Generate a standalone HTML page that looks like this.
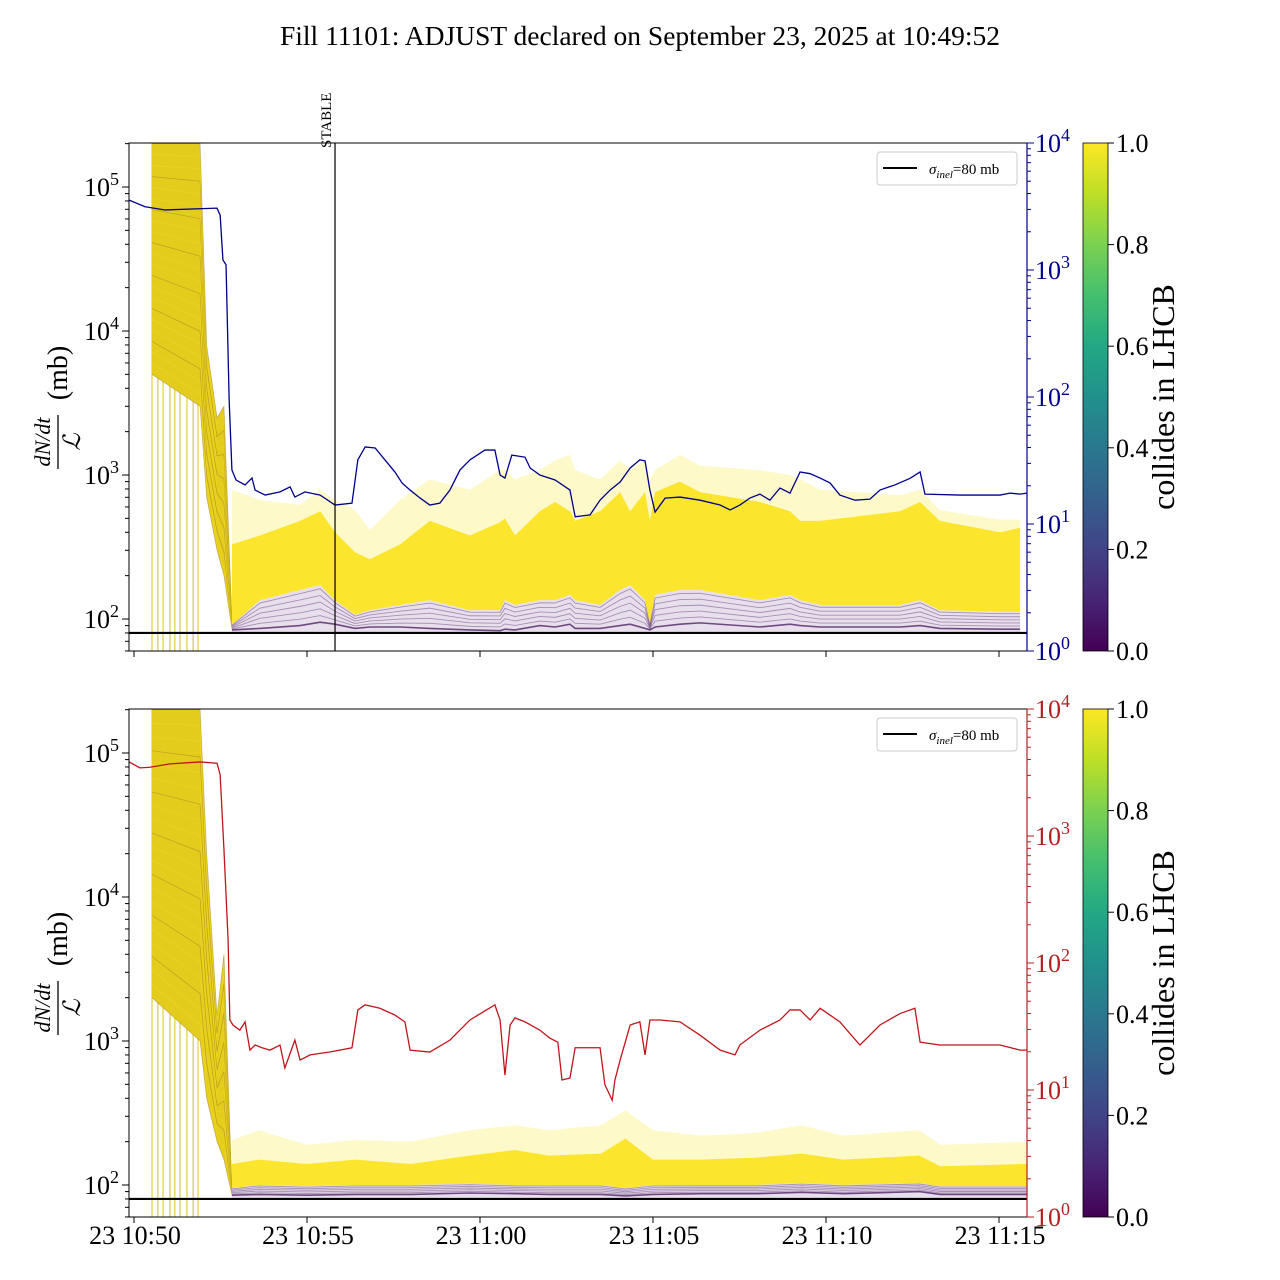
<!DOCTYPE html>
<html><head><meta charset="utf-8">
<style>
html,body{margin:0;padding:0;background:#fff;}
svg{display:block;font-family:"Liberation Serif","DejaVu Serif",serif;}
</style></head>
<body>
<svg id="chart" width="1280" height="1280" viewBox="0 0 1280 1280" xmlns="http://www.w3.org/2000/svg">
<defs>
<linearGradient id="viridis" x1="0" y1="1" x2="0" y2="0">
<stop offset="0" stop-color="#440154"/><stop offset="0.1" stop-color="#482475"/>
<stop offset="0.2" stop-color="#414487"/><stop offset="0.3" stop-color="#355f8d"/>
<stop offset="0.4" stop-color="#2a788e"/><stop offset="0.5" stop-color="#21918c"/>
<stop offset="0.6" stop-color="#22a884"/><stop offset="0.7" stop-color="#44bf70"/>
<stop offset="0.8" stop-color="#7ad151"/><stop offset="0.9" stop-color="#bddf26"/>
<stop offset="1" stop-color="#fde725"/>
</linearGradient>
</defs>
<text x="640" y="45" font-size="27.5" text-anchor="middle">Fill 11101: ADJUST declared on September 23, 2025 at 10:49:52</text>
<g id="layer"></g>
</svg>
<script>
// ---- data (time in minutes after 23 10:50) ----
const xTickLabels = ["23 10:50","23 10:55","23 11:00","23 11:05","23 11:10","23 11:15"];
const xTickMinutes = [0,5,10,15,20,25];
const leftTickExps = [2,3,4,5];
const rightTickExps = [0,1,2,3,4];
const cbTicks = ["0.0","0.2","0.4","0.6","0.8","1.0"];
const sigmaInel = 80;
const stableTime = 5.81;
const injTimes = [0.52,0.69,0.84,1.04,1.18,1.33,1.53,1.71,1.85];

const spikeTimes = [0.52,1.91,2.10,2.40,2.60,2.83];
const spikeTopA = [200000,200000,8000,2500,3000,95];
const spikeBotA = [5000,3000,700,300,200,85];
const spikeTopB = [200000,200000,20000,1500,4000,90];
const spikeBotB = [2000,1000,400,200,150,85];

const bandTimesA = [2.83,3.64,4.80,5.38,5.81,6.39,6.82,7.69,8.55,9.71,10.58,10.72,11.01,11.73,12.17,12.60,12.75,13.47,14.05,14.34,14.77,14.91,15.06,15.78,16.36,18.09,18.96,19.25,19.83,22.14,22.72,23.29,25.03,25.61];
const faintTopA = [790,670,620,790,670,570,415,670,930,790,1080,1080,930,1080,1260,1380,1080,930,1260,1080,1260,930,1080,1380,1160,1080,1000,930,790,725,790,570,490,490];
const coreTopA = [330,380,480,560,400,290,260,330,480,380,470,500,380,560,650,560,480,560,760,560,760,480,760,900,760,650,560,480,480,560,650,480,400,430];
const coreBotA = [91,135,159,172,135,107,115,125,135,115,115,135,125,135,135,147,135,125,159,172,135,91,147,159,159,135,147,135,125,125,135,115,112,112];
const purpleA = [84,86,90,95,92,86,88,88,86,84,83,85,84,90,88,92,86,86,90,92,86,84,88,92,94,88,92,90,88,88,90,86,85,85];

const bandTimesB = [2.83,3.6,5,6.4,8,9.7,11,12,13.5,14.2,15,16.4,18,19.3,20.5,22.7,23.3,25.8];
const faintTopB = [205,240,190,205,200,240,260,240,260,330,240,220,230,260,220,240,190,200];
const coreTopB = [140,150,140,150,140,160,175,160,165,210,150,150,155,165,150,160,135,140];
const coreBotB = [95,100,98,100,100,102,100,100,100,95,100,100,100,103,100,103,98,98];
const purpleB = [85,86,85,86,86,88,87,86,86,84,86,87,87,89,87,90,86,86];

const blueTimes = [-0.14,0.32,0.90,2.40,2.49,2.57,2.66,2.75,2.83,2.95,3.21,3.41,3.50,3.79,4.22,4.51,4.65,4.94,5.38,5.81,6.30,6.47,6.68,6.97,7.25,7.54,7.75,7.98,8.27,8.55,8.84,9.13,9.42,9.71,10.14,10.43,10.58,10.72,10.92,11.30,11.45,11.73,12.17,12.60,12.75,13.18,13.47,13.76,14.05,14.34,14.62,14.77,14.91,15.06,15.35,15.78,16.36,16.94,17.23,17.51,17.80,18.09,18.38,18.67,18.96,19.25,19.54,19.83,20.12,20.40,20.84,21.27,21.56,21.99,22.43,22.72,22.86,23.87,25.03,25.32,25.61,25.81];
const blueVals = [3550,3150,2970,3070,2700,1200,1100,95,26.6,22.2,20.3,23,18.5,16.9,17.9,19.6,16.3,17.9,16.9,14.1,14.6,32,40.4,39.7,32,25.7,21,18.5,16,14.1,14.6,18.5,26.6,32,38.2,38.2,24.3,23,34.9,33.6,27.6,24.3,22.2,18.5,11.4,11.8,15.4,18.5,21.4,27.6,32,31.4,18.5,12.4,16,16.3,15.4,14.1,12.9,14.1,16,17.2,15.4,19.2,17.5,25.7,24.9,23,21,16.9,15.4,15.7,18.5,20.3,22.9,25.7,17.2,16.9,16.9,17.5,17.2,17.5];

const redTimes = [-0.14,0.17,0.46,1.04,1.91,2.40,2.49,2.60,2.72,2.77,2.86,3.06,3.21,3.35,3.50,3.70,3.93,4.22,4.36,4.65,4.80,5.09,5.66,6.30,6.47,6.68,7.11,7.54,7.83,7.98,8.55,9.13,9.71,10.43,10.58,10.72,10.87,11.01,11.30,11.73,12.02,12.25,12.37,12.60,12.75,13.18,13.47,13.61,13.82,13.90,14.05,14.34,14.62,14.77,14.91,15.20,15.78,16.36,16.94,17.37,17.51,18.09,18.67,18.96,19.25,19.54,19.83,20.40,20.98,21.56,22.14,22.57,22.72,23.29,25.03,25.61,25.81];
const redVals = [3830,3440,3480,3700,3830,3740,3030,780,151,35.6,32.5,29.6,34.4,20.6,22.6,21.5,20.6,22.6,14.9,24.7,17.2,18.9,19.9,21.5,42.7,46.8,44,38.9,34.4,20.6,19.9,24.7,35.6,46.8,35.6,13.1,32.5,37,34.4,29.6,25.6,23.8,12,12.4,21.5,21.5,21.5,11,8.3,12,17.2,32.5,34.4,18.9,35.6,35.6,34.4,27,20.6,18.9,22.6,29.6,35.6,42.7,42.7,35.6,44,34.4,22.6,32.5,40,44,23.8,22.6,22.6,20.6,20.6];

// ---- layout ----
const NS = "http://www.w3.org/2000/svg";
const layer = document.getElementById('layer');
const AX_L = 129, AX_R = 1027;
const xS = t => 134 + t * 34.6;
function mk(tag, attrs, parent){
  const e = document.createElementNS(NS, tag);
  for (const k in attrs) e.setAttribute(k, attrs[k]);
  (parent || layer).appendChild(e);
  return e;
}
const panels = [
  {top:143, bot:651, y100:619, rc:"#00008b", line:"#00008b", lt:blueTimes, lv:blueVals,
   sT:spikeTopA, sB:spikeBotA, bt:bandTimesA, ft:faintTopA, ct:coreTopA, cb:coreBotA, pu:purpleA, labels:false, name:"top"},
  {top:709, bot:1217, y100:1185, rc:"#b22222", line:"#c0151b", lt:redTimes, lv:redVals,
   sT:spikeTopB, sB:spikeBotB, bt:bandTimesB, ft:faintTopB, ct:coreTopB, cb:coreBotB, pu:purpleB, labels:true, name:"bottom"}
];
panels.forEach(P => {
  const yL = v => P.y100 - (Math.log10(v) - 2) * 144;
  const yR = v => P.bot - Math.log10(v) * 127;
  const g = mk('g', {'clip-path':'url(#clip-' + P.name + ')'});
  
  
  const cp = mk('clipPath', {id:'clip-' + P.name}, document.querySelector('defs'));
  mk('rect', {x:AX_L, y:P.top, width:AX_R-AX_L, height:P.bot-P.top}, cp);

  injTimes.forEach((t,i) => {
    const l = mk('line', {x1:xS(t), x2:xS(t), y1:P.top, y2:P.bot, stroke: i%2 ? '#c8b830' : '#e0c400', 'stroke-width':1.2, opacity:0.8}, g);
    
    
  });
  let pts = spikeTimes.map((t,i)=>xS(t)+','+yL(P.sT[i]));
  pts = pts.concat(spikeTimes.map((t,i)=>xS(t)+','+yL(P.sB[i])).reverse());
  const sp = mk('polygon', {points:pts.join(' '), fill:'#e4cc1c'}, g);
  
  
  for (let k=0;k<22;k++){
    const f = k/21;
    const p = spikeTimes.map((t,i)=>xS(t)+','+yL(Math.pow(10, Math.log10(P.sB[i]) + f*(Math.log10(P.sT[i])-Math.log10(P.sB[i])))));
    mk('polyline', {points:p.join(' '), fill:'none', stroke:(k%3==0)?'#8a6a2a':'#f7e020', 'stroke-width':0.7, opacity:0.45}, g);
  }
  const faint = P.bt.map((t,i)=>xS(t)+','+yL(P.ft[i])).concat(P.bt.map((t,i)=>xS(t)+','+yL(P.cb[i])).reverse());
  const fb = mk('polygon', {points:faint.join(' '), fill:'#fde725', opacity:0.25}, g);
  
  
  const core = P.bt.map((t,i)=>xS(t)+','+yL(P.ct[i])).concat(P.bt.map((t,i)=>xS(t)+','+yL(P.cb[i])).reverse());
  const cbp = mk('polygon', {points:core.join(' '), fill:'#fbe320', opacity:0.92}, g);
  
  
  const pur = P.bt.map((t,i)=>xS(t)+','+yL(P.cb[i])).concat(P.bt.map((t,i)=>xS(t)+','+yL(sigmaInel)).reverse());
  const pp = mk('polygon', {points:pur.join(' '), fill:'#e6dcea', opacity:0.9}, g);
  
  
  for (let k=0;k<6;k++){
    const f = k/5;
    const p = P.bt.map((t,i)=>{
      const a = Math.log10(P.pu[i]), b = Math.log10(P.cb[i]);
      return xS(t)+','+yL(Math.pow(10, a + f*(b-a)*0.9));
    });
    const pl = mk('polyline', {points:p.join(' '), fill:'none', stroke:'#46175e', 'stroke-width': k==0?1.6:0.9, opacity: k==0?0.75:0.4}, g);
    
    
  }
  const sl = mk('line', {x1:AX_L, x2:AX_R, y1:yL(sigmaInel), y2:yL(sigmaInel), stroke:'#000', 'stroke-width':2.2}, g);
  
  
  const lp = P.lt.map((t,i)=>xS(t)+','+yR(P.lv[i]));
  const ln = mk('polyline', {points:lp.join(' '), fill:'none', stroke:P.line, 'stroke-width':1.3}, g);
  
  

  const fr = mk('rect', {x:AX_L, y:P.top, width:AX_R-AX_L, height:P.bot-P.top, fill:'none', stroke:'#000', 'stroke-width':1});
  
  
  mk('line', {x1:AX_R, x2:AX_R, y1:P.top, y2:P.bot, stroke:P.rc, 'stroke-width':1.2});

  leftTickExps.forEach(e => {
    const y = yL(Math.pow(10,e));
    mk('line', {x1:AX_L-7, x2:AX_L, y1:y, y2:y, stroke:'#000'});
    const tx = mk('text', {x:AX_L-10, y:y+9, 'font-size':26, 'text-anchor':'end'});
    
    
    tx.innerHTML = '10<tspan dy="-11" font-size="18">' + e + '</tspan>';
    for (let m=2;m<10;m++){
      const ym = yL(m*Math.pow(10,e));
      if (ym>P.top && ym<P.bot) mk('line', {x1:AX_L-4, x2:AX_L, y1:ym, y2:ym, stroke:'#000'});
    }
  });
  [60,70,80,90].forEach(v=>{const ym=yL(v); if(ym<P.bot) mk('line',{x1:AX_L-4,x2:AX_L,y1:ym,y2:ym,stroke:'#000'});});
  rightTickExps.forEach(e => {
    const y = yR(Math.pow(10,e));
    mk('line', {x1:AX_R, x2:AX_R+7, y1:y, y2:y, stroke:P.rc});
    const tx = mk('text', {x:AX_R+8, y:y+9, 'font-size':26, fill:P.rc});
    
    
    tx.innerHTML = '10<tspan dy="-11" font-size="18">' + e + '</tspan>';
    if (e<4) for (let m=2;m<10;m++){
      const ym = yR(m*Math.pow(10,e));
      mk('line', {x1:AX_R, x2:AX_R+4, y1:ym, y2:ym, stroke:P.rc});
    }
  });
  xTickMinutes.forEach((t,i) => {
    mk('line', {x1:xS(t), x2:xS(t), y1:P.bot, y2:P.bot+6, stroke:'#000'});
    if (P.labels){
      const tx = mk('text', {x:xS(t)+1, y:P.bot+27, 'font-size':26, 'text-anchor':'middle'});
      
      
      tx.textContent = xTickLabels[i];
    }
  });
  const cy = (P.top+P.bot)/2 + 10;
  const yl = mk('g', {transform:'translate(58,'+cy+') rotate(-90)'});
  
  
  const t1 = mk('text', {x:-35, y:-8, 'font-size':22, 'font-style':'italic', 'text-anchor':'middle'}, yl);
  t1.textContent = 'dN/dt';
  mk('line', {x1:-62, x2:-8, y1:0, y2:0, stroke:'#000', 'stroke-width':1.3}, yl);
  const t2 = mk('text', {x:-35, y:22, 'font-size':24, 'font-style':'italic', 'text-anchor':'middle', 'font-family':'"DejaVu Serif",serif'}, yl);
  t2.textContent = 'ℒ';
  const t3 = mk('text', {x:34, y:9, 'font-size':28, 'text-anchor':'middle'}, yl);
  t3.textContent = '(mb)';
  const lg = mk('g', {});
  
  
  mk('rect', {x:877, y:P.top+9, width:140, height:33, rx:3, fill:'#fff', stroke:'#ccc'}, lg);
  mk('line', {x1:883, x2:917, y1:P.top+25, y2:P.top+25, stroke:'#000', 'stroke-width':2}, lg);
  const lt = mk('text', {x:929, y:P.top+31, 'font-size':15}, lg);
  lt.innerHTML = '<tspan font-style="italic">σ<tspan dy="4" font-size="11">inel</tspan></tspan><tspan dy="-4">=80 mb</tspan>';
  const cbx = 1083;
  const cbr = mk('rect', {x:cbx, y:P.top, width:25, height:P.bot-P.top, fill:'url(#viridis)', stroke:'#000', 'stroke-width':0.8});
  
  
  cbTicks.forEach((lab,i) => {
    const y = P.bot - i*(P.bot-P.top)/5;
    mk('line', {x1:cbx+25, x2:cbx+31, y1:y, y2:y, stroke:'#000'});
    const tx = mk('text', {x:cbx+33, y:y+9, 'font-size':26});
    
    
    tx.textContent = lab;
  });
  const cl = mk('text', {x:0, y:0, 'font-size':32, 'text-anchor':'middle', transform:'translate(1174,'+((P.top+P.bot)/2)+') rotate(-90)'});
  
  
  cl.textContent = 'collides in LHCB';
});
const sx = xS(stableTime);
const stl = mk('line', {x1:sx, x2:sx, y1:143, y2:651, stroke:'#000', 'stroke-width':1.2});


const stt = mk('text', {x:0, y:0, 'font-size':15, transform:'translate('+(sx-4)+',148) rotate(-90)'});


stt.textContent = 'STABLE';
</script>
</body></html>
